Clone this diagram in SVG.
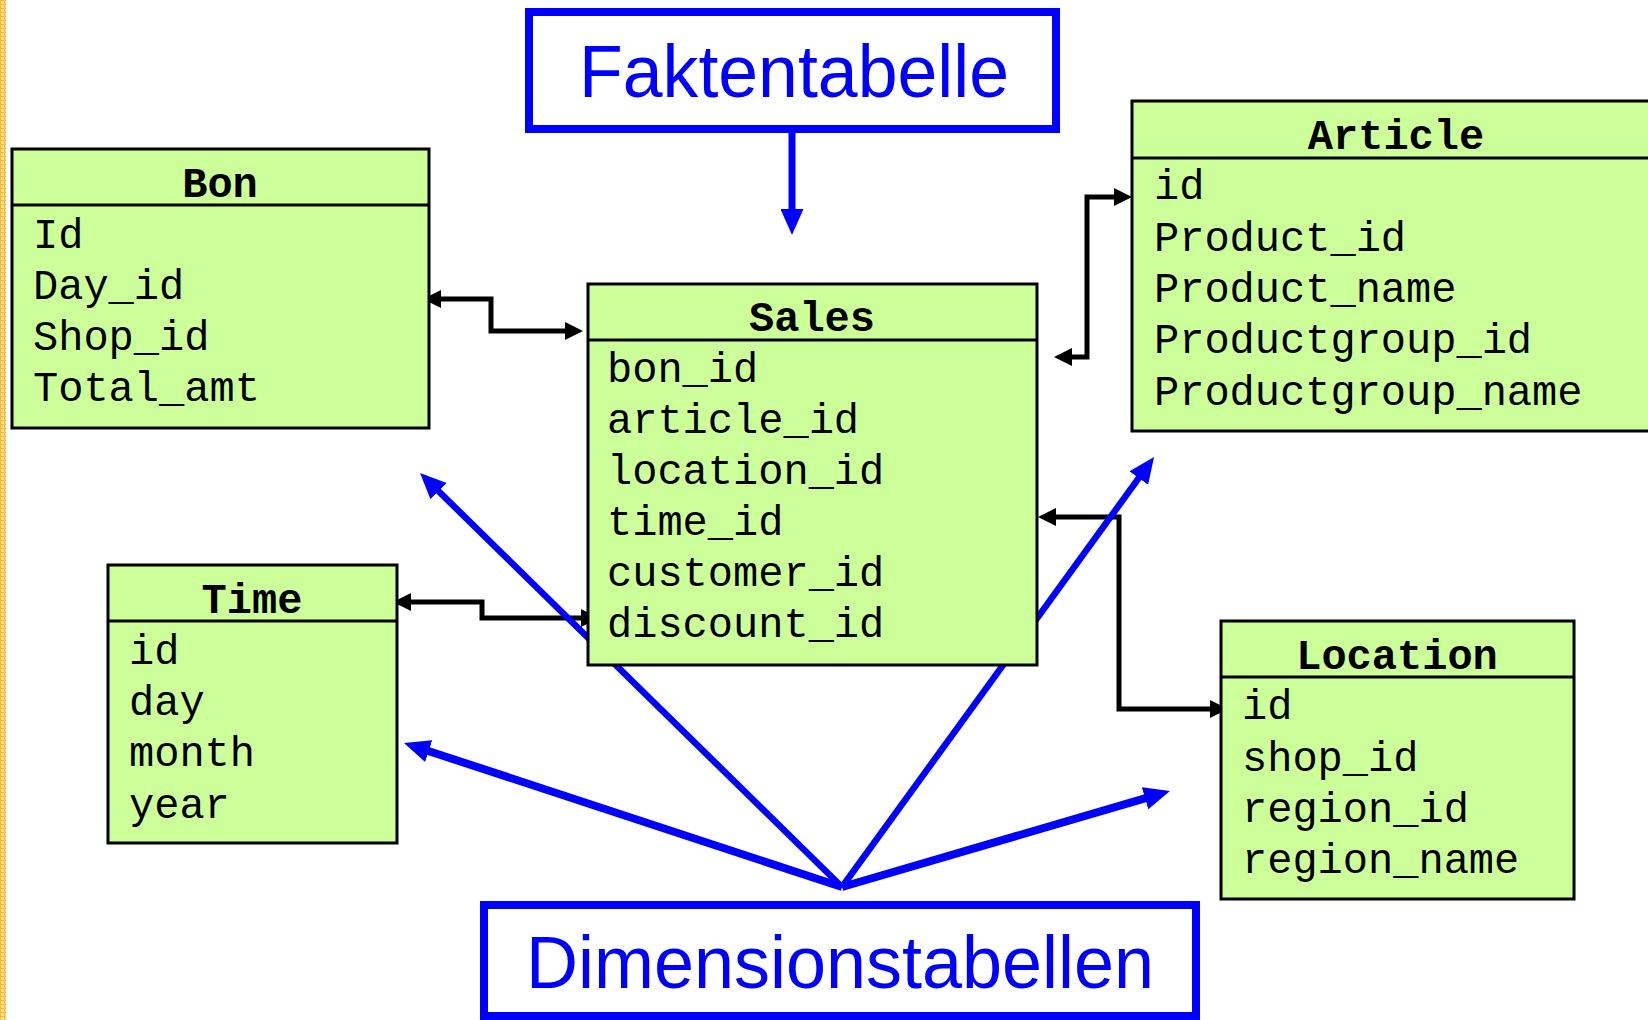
<svg xmlns="http://www.w3.org/2000/svg" width="1648" height="1020" viewBox="0 0 1648 1020">
<style>
.tbl{fill:#CCFF99;stroke:#000;stroke-width:3}
.sep{stroke:#000;stroke-width:3}
.title{font-family:"Liberation Mono","Courier New",monospace;font-weight:bold;font-size:42px;text-anchor:middle;fill:#000}
.row{font-family:"Liberation Mono","Courier New",monospace;font-size:42px;fill:#000}
.lbl{fill:#fff;stroke:#0000FF;stroke-width:8}
.lbltxt{font-family:"Liberation Sans",Arial,sans-serif;font-size:74px;fill:#0000FF}
.conn{fill:none;stroke:#000;stroke-width:5;marker-start:url(#ah);marker-end:url(#ah)}
.blue{fill:none;stroke:#0000FF;marker-end:url(#bh)}
</style>
<defs>
<pattern id="grid" width="4" height="4" patternUnits="userSpaceOnUse">
<rect width="4" height="4" fill="#FFE08A"/>
<path d="M0,0.5H4M0.5,0V4" stroke="#F6B93B" stroke-width="1"/>
</pattern>
<marker id="ah" viewBox="0 0 18 18" markerUnits="userSpaceOnUse" markerWidth="18" markerHeight="18" refX="5" refY="9" orient="auto-start-reverse">
<path d="M0,0L18,9L0,18z" fill="#000"/>
</marker>
<marker id="bh" viewBox="0 0 26 23" markerUnits="userSpaceOnUse" markerWidth="26" markerHeight="23" refX="6" refY="11.5" orient="auto">
<path d="M0,0L26,11.5L0,23z" fill="#0000FF"/>
</marker>
</defs>
<rect x="0" y="0" width="1648" height="1020" fill="#fff"/>
<rect x="0" y="0" width="6" height="1020" fill="url(#grid)"/>

<g id="connectors">
<path class="conn" d="M436,299H491V331H570"/>
<path class="conn" d="M1067,357H1087V197H1119"/>
<path class="conn" d="M1051,517H1119V709H1215"/>
<path class="conn" d="M406,602H482V618H586"/>
<path class="blue" stroke-width="7" d="M792,133V215"/>
<path class="blue" stroke-width="6.5" d="M842,887L434.3,487"/>
<path class="blue" stroke-width="8" d="M842,887L423,749.2"/>
<path class="blue" stroke-width="6.5" d="M842,887L1142.3,473.2"/>
<path class="blue" stroke-width="8" d="M842,887L1150.8,796.6"/>
</g>

<g id="bon">
<rect class="tbl" x="12" y="149" width="417" height="279"/>
<line class="sep" x1="12" y1="205" x2="429" y2="205"/>
<text class="title" x="220" y="197">Bon</text>
<text class="row" x="33" y="248">Id</text>
<text class="row" x="33" y="299">Day_id</text>
<text class="row" x="33" y="350">Shop_id</text>
<text class="row" x="33" y="401">Total_amt</text>
</g>

<g id="sales">
<rect class="tbl" x="588" y="284" width="449" height="381"/>
<line class="sep" x1="588" y1="340" x2="1037" y2="340"/>
<text class="title" x="812" y="331">Sales</text>
<text class="row" x="607" y="382">bon_id</text>
<text class="row" x="607" y="433">article_id</text>
<text class="row" x="607" y="484">location_id</text>
<text class="row" x="607" y="535">time_id</text>
<text class="row" x="607" y="586">customer_id</text>
<text class="row" x="607" y="637">discount_id</text>
</g>

<g id="article">
<rect class="tbl" x="1132" y="101" width="528" height="330"/>
<line class="sep" x1="1132" y1="158" x2="1660" y2="158"/>
<text class="title" x="1396" y="149">Article</text>
<text class="row" x="1154" y="199">id</text>
<text class="row" x="1154" y="251">Product_id</text>
<text class="row" x="1154" y="302">Product_name</text>
<text class="row" x="1154" y="353">Productgroup_id</text>
<text class="row" x="1154" y="405">Productgroup_name</text>
</g>

<g id="time">
<rect class="tbl" x="108" y="565" width="289" height="278"/>
<line class="sep" x1="108" y1="621" x2="397" y2="621"/>
<text class="title" x="252" y="613">Time</text>
<text class="row" x="129" y="664">id</text>
<text class="row" x="129" y="715">day</text>
<text class="row" x="129" y="766">month</text>
<text class="row" x="129" y="818">year</text>
</g>

<g id="location">
<rect class="tbl" x="1221" y="621" width="353" height="278"/>
<line class="sep" x1="1221" y1="677" x2="1574" y2="677"/>
<text class="title" x="1397" y="669">Location</text>
<text class="row" x="1242" y="719">id</text>
<text class="row" x="1242" y="771">shop_id</text>
<text class="row" x="1242" y="822">region_id</text>
<text class="row" x="1242" y="873">region_name</text>
</g>

<g id="faktentabelle">
<rect class="lbl" x="529" y="12" width="527" height="117"/>
<text class="lbltxt" x="579" y="97" textLength="430" lengthAdjust="spacingAndGlyphs">Faktentabelle</text>
</g>

<g id="dimensionstabellen">
<rect class="lbl" x="484" y="905" width="712" height="111"/>
<text class="lbltxt" x="526" y="988" textLength="628" lengthAdjust="spacingAndGlyphs">Dimensionstabellen</text>
</g>
</svg>
